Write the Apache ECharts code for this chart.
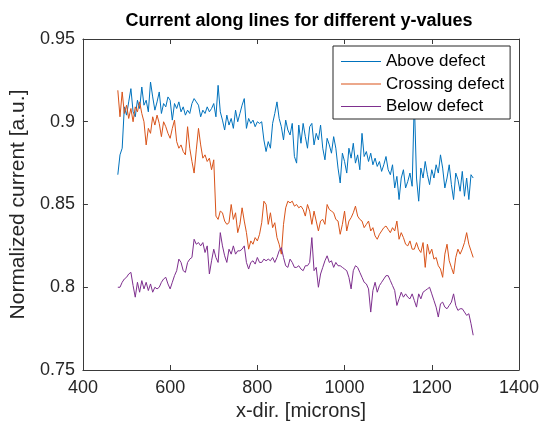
<!DOCTYPE html>
<html>
<head>
<meta charset="utf-8">
<script src="https://cdn.jsdelivr.net/npm/echarts@6/dist/echarts.min.js"></script>
<style>
  html, body { margin: 0; padding: 0; background: #fff; }
  #chart { width: 542px; height: 430px; }
</style>
</head>
<body>
<div id="chart"></div>
<script>
// Scan positions along the line (microns)
const xPositions = [
  480,485,490,495,500,505,510,515,520,525,
  530,535,540,545,550,555,560,565,570,575,
  580,585,590,595,600,605,610,615,620,625,
  630,635,640,645,650,655,660,665,670,675,
  680,685,690,695,700,705,710,715,720,725,
  730,735,740,745,750,755,760,765,770,775,
  780,785,790,795,800,805,810,815,820,825,
  830,835,840,845,850,855,860,865,870,875,
  880,885,890,895,900,905,910,915,920,925,
  930,935,940,945,950,955,960,965,970,975,
  980,985,990,995,1000,1005,1010,1015,1020,1025,
  1030,1035,1040,1045,1050,1055,1060,1065,1070,1075,
  1080,1085,1090,1095,1100,1105,1110,1115,1120,1125,
  1130,1135,1140,1145,1150,1155,1160,1165,1170,1175,
  1180,1185,1190,1195,1200,1205,1210,1215,1220,1225,
  1230,1235,1240,1245,1250,1255,1260,1265,1270,1275,
  1280,1285,1290,1295
];

// Normalized current, line above the defect
const aboveDefect = [
  0.868,0.880,0.884,0.909,0.904,0.912,0.920,0.906,0.903,0.913,
  0.908,0.921,0.910,0.913,0.906,0.924,0.915,0.907,0.912,0.918,
  0.905,0.911,0.909,0.915,0.913,0.901,0.911,0.908,0.912,0.906,
  0.909,0.904,0.907,0.905,0.911,0.914,0.912,0.910,0.903,0.907,
  0.905,0.909,0.906,0.908,0.911,0.903,0.922,0.906,0.901,0.895,
  0.904,0.898,0.902,0.896,0.907,0.900,0.905,0.910,0.914,0.896,
  0.902,0.899,0.901,0.897,0.900,0.899,0.900,0.889,0.882,0.888,
  0.884,0.899,0.905,0.912,0.902,0.897,0.889,0.901,0.895,0.892,
  0.899,0.879,0.875,0.898,0.887,0.899,0.891,0.884,0.897,0.899,
  0.886,0.893,0.889,0.898,0.884,0.877,0.890,0.886,0.881,0.891,
  0.884,0.872,0.863,0.881,0.876,0.869,0.884,0.878,0.887,0.875,
  0.880,0.871,0.893,0.879,0.882,0.876,0.881,0.874,0.878,0.873,
  0.876,0.870,0.874,0.879,0.871,0.868,0.874,0.860,0.867,0.853,
  0.866,0.871,0.860,0.864,0.869,0.861,0.913,0.866,0.852,0.872,
  0.866,0.876,0.868,0.862,0.871,0.866,0.874,0.869,0.880,0.872,
  0.860,0.866,0.874,0.862,0.853,0.869,0.865,0.858,0.870,0.855,
  0.866,0.853,0.868,0.866
];

// Normalized current, line crossing the defect
const crossingDefect = [
  0.919,0.903,0.918,0.905,0.910,0.902,0.908,0.900,0.909,0.906,
  0.912,0.905,0.900,0.886,0.896,0.893,0.903,0.898,0.904,0.899,
  0.891,0.900,0.897,0.893,0.890,0.896,0.901,0.888,0.884,0.886,
  0.882,0.880,0.897,0.884,0.876,0.869,0.883,0.896,0.886,0.878,
  0.880,0.876,0.878,0.871,0.877,0.843,0.841,0.846,0.845,0.840,
  0.838,0.839,0.850,0.841,0.845,0.833,0.838,0.848,0.840,0.833,
  0.823,0.828,0.826,0.830,0.828,0.832,0.839,0.852,0.850,0.838,
  0.845,0.836,0.839,0.830,0.826,0.820,0.838,0.848,0.852,0.851,
  0.852,0.849,0.850,0.848,0.849,0.847,0.843,0.850,0.846,0.838,
  0.846,0.840,0.834,0.840,0.841,0.838,0.850,0.847,0.846,0.845,
  0.841,0.840,0.832,0.838,0.846,0.834,0.840,0.842,0.845,0.849,
  0.843,0.841,0.840,0.836,0.838,0.840,0.834,0.836,0.831,0.829,
  0.832,0.834,0.836,0.837,0.835,0.833,0.836,0.834,0.840,0.829,
  0.833,0.830,0.826,0.825,0.828,0.823,0.823,0.827,0.823,0.821,
  0.827,0.812,0.826,0.820,0.823,0.817,0.818,0.813,0.811,0.806,
  0.820,0.826,0.816,0.812,0.808,0.818,0.823,0.820,0.823,0.827,
  0.833,0.826,0.822,0.818
];

// Normalized current, line below the defect
const belowDefect = [
  0.800,0.800,0.803,0.805,0.806,0.808,0.809,0.801,0.794,0.803,
  0.797,0.804,0.799,0.803,0.798,0.802,0.797,0.800,0.799,0.800,
  0.803,0.805,0.806,0.802,0.799,0.803,0.807,0.810,0.817,0.815,
  0.810,0.809,0.815,0.817,0.818,0.829,0.826,0.827,0.825,0.827,
  0.821,0.825,0.808,0.816,0.823,0.818,0.815,0.833,0.825,0.819,
  0.815,0.823,0.820,0.825,0.820,0.822,0.822,0.823,0.825,0.815,
  0.811,0.815,0.816,0.814,0.818,0.815,0.815,0.817,0.816,0.817,
  0.816,0.818,0.815,0.818,0.822,0.824,0.818,0.813,0.812,0.817,
  0.815,0.812,0.812,0.813,0.811,0.810,0.813,0.813,0.815,0.830,
  0.810,0.812,0.800,0.808,0.812,0.816,0.819,0.815,0.816,0.812,
  0.815,0.813,0.813,0.812,0.811,0.810,0.806,0.799,0.810,0.813,
  0.812,0.809,0.806,0.803,0.802,0.799,0.785,0.798,0.803,0.797,
  0.801,0.803,0.805,0.807,0.807,0.804,0.801,0.798,0.789,0.793,
  0.797,0.794,0.796,0.794,0.793,0.796,0.792,0.788,0.796,0.793,
  0.797,0.798,0.799,0.800,0.796,0.792,0.788,0.782,0.790,0.791,
  0.788,0.787,0.789,0.791,0.796,0.789,0.786,0.787,0.787,0.785,
  0.783,0.784,0.778,0.771
];

const seriesNames = ['Above defect', 'Crossing defect', 'Below defect'];
const seriesColors = ['#0072BD', '#D95319', '#7E2F8E'];
const xTicks = { min: 400, max: 1400, step: 200 };
const yTicks = { min: 0.75, max: 0.95, step: 0.05 };

const FONT = '"Liberation Sans", Arial, Helvetica, sans-serif';
const AXIS_COLOR = '#262626';
const FRAME_COLOR = '#3a3a3a';

function pairs(values) {
  return xPositions.map((x, i) => [x, values[i]]);
}

function axisBase(extra) {
  return Object.assign({
    type: 'value',
    axisLine: { show: true, onZero: false, lineStyle: { color: FRAME_COLOR, width: 1 } },
    axisTick: { show: true, inside: true, length: 5, lineStyle: { color: FRAME_COLOR, width: 1 } },
    splitLine: { show: false },
    axisLabel: { show: false }
  }, extra);
}

const chart = echarts.init(document.getElementById('chart'), null, { renderer: 'canvas' });

chart.setOption({
  animation: false,
  backgroundColor: '#ffffff',
  title: {
    text: 'Current along lines for different y-values',
    left: 299,
    top: 12,
    padding: 0,
    textAlign: 'center',
    textStyle: { fontFamily: FONT, fontSize: 18, fontWeight: 'bold', color: '#000' }
  },
  grid: { left: 79, right: 23, top: 39, bottom: 60, containLabel: false },
  legend: {
    orient: 'vertical',
    left: 333,
    top: 46,
    padding: [7, 6, 4, 8],
    icon: 'rect',
    itemWidth: 40,
    itemHeight: 1,
    itemGap: 5.5,
    backgroundColor: '#ffffff',
    borderColor: AXIS_COLOR,
    borderWidth: 1,
    borderRadius: 0,
    z: 10,
    textStyle: { fontFamily: FONT, fontSize: 17, color: '#000', lineHeight: 17, padding: [0, 0, 0, 0] },
    data: seriesNames
  },
  xAxis: [
    axisBase({
      position: 'bottom',
      min: xTicks.min, max: xTicks.max, interval: xTicks.step,
      name: 'x-dir. [microns]',
      nameLocation: 'middle',
      nameGap: 31,
      nameTextStyle: { fontFamily: FONT, fontSize: 20, color: AXIS_COLOR },
      axisLabel: {
        show: true, margin: 9, fontFamily: FONT, fontSize: 18, color: AXIS_COLOR,
        formatter: (v) => String(v)
      }
    }),
    axisBase({ position: 'top', min: xTicks.min, max: xTicks.max, interval: xTicks.step })
  ],
  yAxis: [
    axisBase({
      position: 'left',
      min: yTicks.min, max: yTicks.max, interval: yTicks.step,
      name: 'Normalized current [a.u.]',
      nameLocation: 'middle',
      nameGap: 47,
      nameRotate: 90,
      nameTextStyle: { fontFamily: FONT, fontSize: 21, color: AXIS_COLOR },
      axisLabel: {
        show: true, margin: 8, fontFamily: FONT, fontSize: 18, color: AXIS_COLOR,
        formatter: (v) => String(+v.toFixed(2))
      }
    }),
    axisBase({ position: 'right', min: yTicks.min, max: yTicks.max, interval: yTicks.step })
  ],
  series: [aboveDefect, crossingDefect, belowDefect].map((vals, i) => ({
    name: seriesNames[i],
    type: 'line',
    xAxisIndex: 0,
    yAxisIndex: 0,
    data: pairs(vals),
    symbol: 'none',
    showSymbol: false,
    smooth: false,
    clip: true,
    lineStyle: { color: seriesColors[i], width: 1 },
    itemStyle: { color: seriesColors[i] },
    emphasis: { disabled: true }
  }))
});
</script>
</body>
</html>
